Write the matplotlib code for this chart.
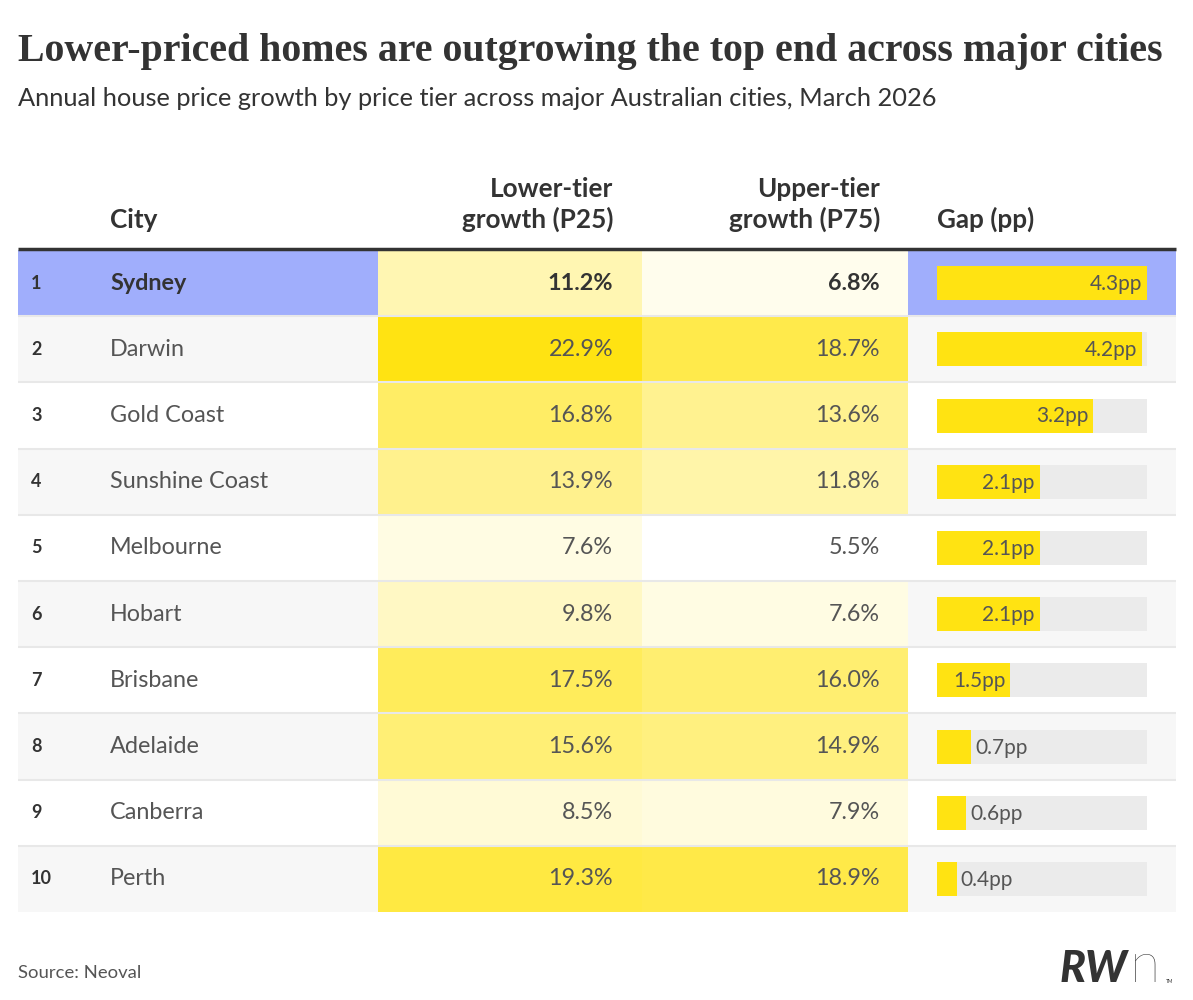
import matplotlib
matplotlib.use("Agg")
import matplotlib.pyplot as plt
import numpy as np
from matplotlib.colors import LinearSegmentedColormap, Normalize

# data
ranks = [1, 2, 3, 4, 5, 6, 7, 8, 9, 10]
cities = ["Sydney", "Darwin", "Gold Coast", "Sunshine Coast", "Melbourne",
          "Hobart", "Brisbane", "Adelaide", "Canberra", "Perth"]
lower_growth = [11.2, 22.9, 16.8, 13.9, 7.6, 9.8, 17.5, 15.6, 8.5, 19.3]
upper_growth = [6.8, 18.7, 13.6, 11.8, 5.5, 7.6, 16.0, 14.9, 7.9, 18.9]
gap_pp = [4.3, 4.2, 3.2, 2.1, 2.1, 2.1, 1.5, 0.7, 0.6, 0.4]
highlight = "Sydney"

title = "Lower-priced homes are outgrowing the top end across major cities"
subtitle = "Annual house price growth by price tier across major Australian cities, March 2026"
headers = ["City", "Lower-tier\ngrowth (P25)", "Upper-tier\ngrowth (P75)", "Gap (pp)"]
source = "Source: Neoval"

# layout (pixels)
W, H = 1193, 1000
left, right = 18, 1176
col_city, col_low, col_up, col_gap = 18, 378, 642, 908
table_top, row_h = 250, 66.2
bar_x0, bar_w, bar_h = 937, 210, 34

BODY = "Lato"
dark = "#333333"
mid = "#555555"
yellow = "#ffe312"
blue = "#a0aefc"
HDR = 18.8

fig = plt.figure(figsize=(W / 100, H / 100), dpi=100)
ax = fig.add_axes([0, 0, 1, 1])
ax.set_xlim(0, W)
ax.set_ylim(H, 0)
ax.axis("off")

fig.text(18 / W, 1 - 61 / H, title, family="Liberation Serif", weight="bold",
         fontsize=28.7, color=dark, va="baseline")
fig.text(18 / W, 1 - 106 / H, subtitle, family=BODY, fontsize=18.3,
         color=dark, va="baseline")

# headers
ax.text(110, 228, headers[0], family=BODY, weight="bold", fontsize=HDR,
        color=dark, va="baseline")
for txt, xr in [(headers[1], col_up - 29), (headers[2], col_gap - 28)]:
    l1, l2 = txt.split("\n")
    ax.text(xr, 197, l1, family=BODY, weight="bold", fontsize=HDR,
            color=dark, va="baseline", ha="right")
    ax.text(xr, 228, l2, family=BODY, weight="bold", fontsize=HDR,
            color=dark, va="baseline", ha="right")
ax.text(bar_x0, 228, headers[3], family=BODY, weight="bold", fontsize=HDR,
        color=dark, va="baseline")

cmap = LinearSegmentedColormap.from_list("heat", ["#ffffff", yellow])
allv = lower_growth + upper_growth
norm = Normalize(vmin=min(allv), vmax=max(allv))
gap_max = max(gap_pp)

n = len(cities)
ys = table_top + row_h * (np.arange(n) + 0.5)

for i in range(n):
    y = ys[i]
    hl = cities[i] == highlight
    row_bg = "#f7f7f7" if i % 2 == 1 else "#ffffff"
    side_bg = blue if hl else row_bg
    # city block and gap block
    ax.barh(y, col_low - col_city, left=col_city, height=row_h, color=side_bg,
            linewidth=0)
    ax.barh(y, right - col_gap, left=col_gap, height=row_h, color=side_bg,
            linewidth=0)
    # heat cells
    ax.barh(y, col_up - col_low, left=col_low, height=row_h,
            color=cmap(norm(lower_growth[i])), linewidth=0)
    ax.barh(y, col_gap - col_up, left=col_up, height=row_h,
            color=cmap(norm(upper_growth[i])), linewidth=0)

    wt = "bold" if hl else "normal"
    tc = dark if hl else mid
    ax.text(31, y, str(ranks[i]), family=BODY, weight="bold", fontsize=13,
            color=dark, va="center")
    ax.text(110, y, cities[i], family=BODY, weight=wt, fontsize=16.8,
            color=tc, va="center")
    ax.text(col_up - 29, y, f"{lower_growth[i]:.1f}%", family=BODY, weight=wt,
            fontsize=16.8, color=tc, va="center", ha="right")
    ax.text(col_gap - 28, y, f"{upper_growth[i]:.1f}%", family=BODY, weight=wt,
            fontsize=16.8, color=tc, va="center", ha="right")

    # gap bar
    ax.barh(y, bar_w, left=bar_x0, height=bar_h,
            color="#ebebeb" if not hl else yellow, linewidth=0)
    bw = gap_pp[i] / gap_max * bar_w
    ax.barh(y, bw, left=bar_x0, height=bar_h, color=yellow, linewidth=0)
    lab = f"{gap_pp[i]:.1f}pp"
    if gap_pp[i] >= 1.0:
        ax.text(bar_x0 + bw - 5, y + 1, lab, family=BODY,
                fontsize=15, color=mid, va="center", ha="right")
    else:
        ax.text(bar_x0 + bw + 4, y + 1, lab, family=BODY,
                fontsize=15, color=mid, va="center", ha="left")

    if i > 0:
        ax.plot([left, right], [table_top + row_h * i] * 2, color="#e8e8e8",
                lw=1.5, solid_capstyle="butt")

ax.plot([left, right], [table_top - 1.5] * 2, color=dark, lw=2.5,
        solid_capstyle="butt")

ax.text(18, 978, source, family=BODY, fontsize=13.3, color=mid, va="baseline")
ax.text(1060, 982, "RW", family=BODY, weight="black", style="italic",
        fontsize=31, color=dark, va="baseline")
ax.text(1130, 982, "n", family=BODY, weight="light", fontsize=40,
        color=dark, va="baseline")
ax.text(1166, 983, "TM", family=BODY, fontsize=3.5, color=dark, va="baseline")

fig.savefig("out.png", dpi=100)
